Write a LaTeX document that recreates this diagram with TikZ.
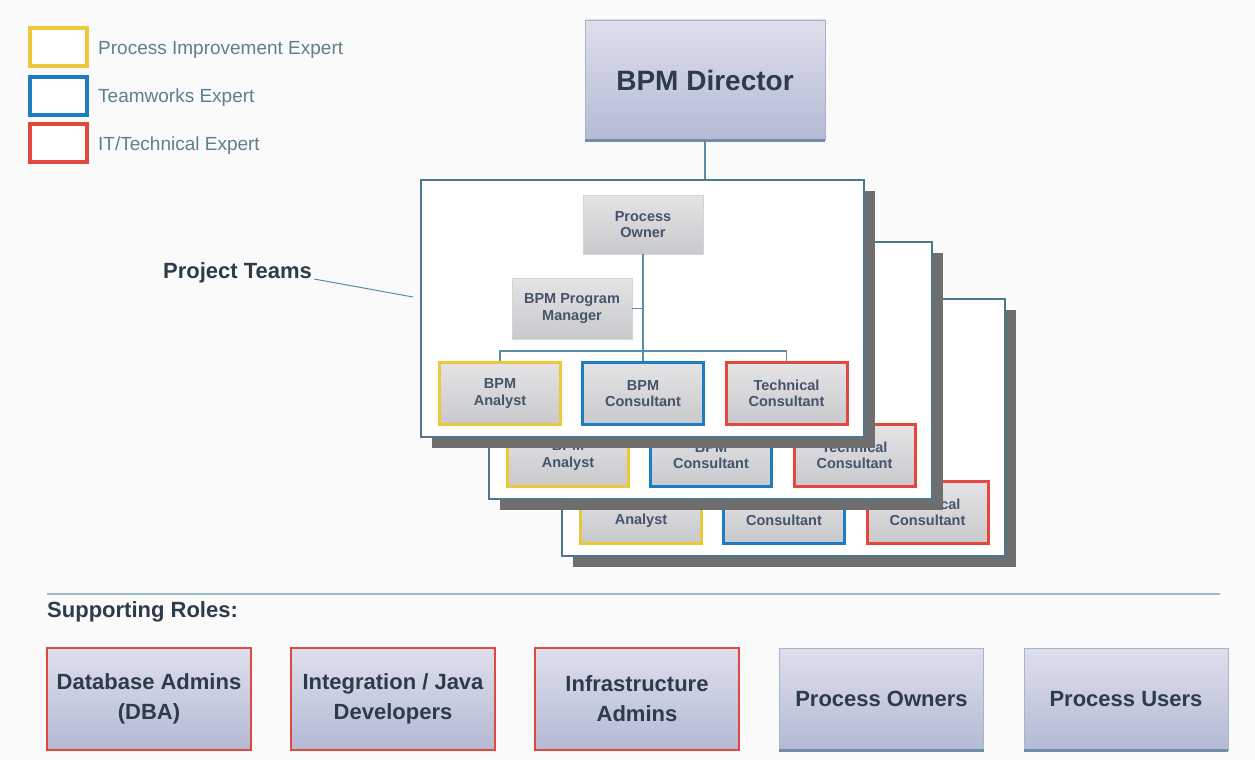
\documentclass[tikz,border=0pt]{standalone}
\usepackage{fontspec}
\setmainfont{Liberation Sans}
\usetikzlibrary{shadows}
\definecolor{bgc}{HTML}{FAFAFA}
\definecolor{conn}{HTML}{5A8CAA}
\definecolor{ylw}{HTML}{EDC73A}
\definecolor{blu}{HTML}{1E7CC0}
\definecolor{redb}{HTML}{E2483E}
\definecolor{lavtop}{HTML}{DEDFEC}
\definecolor{lavbot}{HTML}{B4BAD4}
\definecolor{graytop}{HTML}{E4E4E6}
\definecolor{graybot}{HTML}{C8C9CC}
\definecolor{shadowc}{HTML}{6E6E6E}
\definecolor{txtdark}{HTML}{2C3C4C}
\definecolor{txtteam}{HTML}{44546A}
\definecolor{txtleg}{HTML}{5E7E92}
\definecolor{lavedge}{HTML}{A6B6C8}
\definecolor{lavbottom}{HTML}{6E8EA6}
\definecolor{rule}{HTML}{9DBACA}
\tikzset{
  panel/.style={draw=conn!85!black, line width=1.8pt, fill=white, minimum width=443pt, minimum height=257pt,
    drop shadow={shadow xshift=11pt, shadow yshift=-11pt, fill=shadowc, opacity=1}},
  teambox/.style={draw=graybot!80!white, line width=0.8pt, top color=graytop, bottom color=graybot,
    minimum width=121pt, minimum height=62pt, align=center, text=txtteam,
    font=\bfseries\fontsize{14.5}{16.5}\selectfont, inner sep=2pt},
  yb/.style={teambox, draw=ylw, line width=3pt},
  bb/.style={teambox, draw=blu, line width=3pt},
  rb/.style={teambox, draw=redb, line width=3pt},
  link/.style={draw=conn, line width=1.8pt},
  lavbox/.style={draw=lavedge, line width=0.8pt, top color=lavtop, bottom color=lavbot,
    align=center, text=txtdark, minimum width=204pt, minimum height=102pt,
    font=\bfseries\fontsize{22}{30}\selectfont},
  redlav/.style={lavbox, draw=redb, line width=2.8pt},
  legbox/.style={draw, line width=4pt, fill=white, minimum width=57pt, minimum height=38pt},
  legtxt/.style={anchor=west, text=txtleg, font=\fontsize{19}{21}\selectfont, inner sep=0pt},
  headtxt/.style={anchor=west, text=txtdark, font=\bfseries\fontsize{22}{24}\selectfont, inner sep=0pt},
  bottomedge/.style={draw=lavbottom, line width=3pt}
}
\begin{document}
\begin{tikzpicture}[x=1pt,y=-1pt]
\fill[bgc] (0,0) rectangle (1255,760);
\useasboundingbox (0,0) rectangle (1255,760);

% legend
\node[legbox, draw=ylw] (lg1) at (58,47) {};
\node[legbox, draw=blu] (lg2) at (58,95.5) {};
\node[legbox, draw=redb] (lg3) at (58,143) {};
\node[legtxt] (lt1) at (98,50) {Process Improvement Expert};
\node[legtxt] (lt2) at (98,98) {Teamworks Expert};
\node[legtxt] (lt3) at (98,146) {IT/Technical Expert};

% director
\node[lavbox, minimum width=240pt, minimum height=120pt, font=\bfseries\fontsize{28}{30}\selectfont] (dir) at (705,80) {BPM Director};
\draw[bottomedge] (dir.south west) -- (dir.south east);

% back teams (only their visible lower boxes)
\foreach \t/\dx/\dy in {3/141/119, 2/68/62} {
  \begin{scope}[shift={(\dx,\dy)}]
    \node[panel] (panel\t) at (642.5,308.5) {};
    \node[yb] (an\t) at (500,393.5) {BPM\\Analyst};
    \node[bb] (co\t) at (643,393.5) {BPM\\Consultant};
    \node[rb] (te\t) at (786.5,393.5) {Technical\\Consultant};
  \end{scope}
}

% front team
\node[panel] (panel1) at (642.5,308.5) {};
\node[teambox, minimum width=120pt, minimum height=59pt] (po1) at (643,224.5) {Process\\Owner};
\node[teambox, minimum width=120pt, minimum height=61pt] (pm1) at (572,308.5) {BPM Program\\Manager};
\node[yb] (an1) at (500,393.5) {BPM\\Analyst};
\node[bb] (co1) at (643,393.5) {BPM\\Consultant};
\node[rb] (te1) at (786.5,393.5) {Technical\\Consultant};
\draw[link] (po1.south) -- (co1.north);
\draw[link] (pm1.east) -- (pm1.east -| po1.south);
\draw[link] (an1.north) -- ++(0,-10) -| (te1.north);

\draw[link] (dir.south) -- (dir.south |- panel1.north);

% project teams label
\node[headtxt] (ptl) at (163,273) {Project Teams};
\coordinate (ptend) at (413,297);
\draw[draw=conn, line width=1pt] (ptl.east) ++(2,6) coordinate (ptstart) -- (ptend);

% supporting roles
\coordinate (sl1) at (47,594);
\coordinate (sl2) at (1220,594);
\draw[draw=rule, line width=2.2pt] (sl1) -- (sl2);
\node[headtxt] (sr) at (47,612) {Supporting Roles:};

\node[redlav] (dba) at (149,699) {Database Admins\\(DBA)};
\node[redlav] (ij) at (393,699) {Integration / Java\\Developers};
\node[redlav] (ia) at (637,699) {Infrastructure\\Admins};
\node[lavbox] (pos) at (881.5,699) {Process Owners};
\draw[bottomedge] (pos.south west) -- (pos.south east);
\node[lavbox] (pus) at (1126,699) {Process Users};
\draw[bottomedge] (pus.south west) -- (pus.south east);
\end{tikzpicture}
\end{document}
